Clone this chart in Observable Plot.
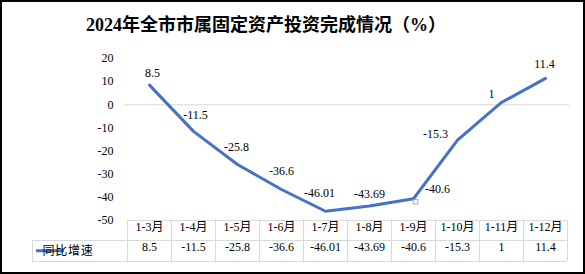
<!DOCTYPE html>
<html><head><meta charset="utf-8">
<script src="https://cdn.jsdelivr.net/npm/d3@7"></script>
<script src="https://cdn.jsdelivr.net/npm/@observablehq/plot@0.6"></script>
<style>
html,body{margin:0;padding:0;background:#fff;}
#wrap{position:relative;width:585px;height:274px;overflow:hidden;background:#fff;}
#chart{position:absolute;left:0;top:0;}
#title{position:absolute;left:0;top:11px;width:532px;text-align:center;font-weight:bold;font-size:18px;font-family:"Liberation Serif","Noto Sans CJK SC";color:#000;line-height:28px;white-space:nowrap;}
#frame{position:absolute;left:0;top:0;width:585px;height:274px;box-sizing:border-box;border:2px solid #000;pointer-events:none;}
</style></head><body>
<div id="wrap"><div id="chart"></div><div id="title">2024年全市市属固定资产投资完成情况（%）</div><div id="frame"></div></div>
<script>
const categories = ["1-3月","1-4月","1-5月","1-6月","1-7月","1-8月","1-9月","1-10月","1-11月","1-12月"];
const values = [8.5, -11.5, -25.8, -36.6, -46.01, -43.69, -40.6, -15.3, 1, 11.4];
const valueLabels = ["8.5","-11.5","-25.8","-36.6","-46.01","-43.69","-40.6","-15.3","1","11.4"];
const yTicks = [20, 10, 0, -10, -20, -30, -40, -50];
const seriesName = "同比增速";

// layout: label offsets (px) relative to each point
const labelOffsets = [[3,-12],[2,-16],[-1,-17],[0,-18],[-6,-18],[0,-12],[24,-10],[-22,-6],[-10,-8],[-1,-14]];

const data = categories.map((c, i) => ({cat: c, v: values[i], label: valueLabels[i]}));
const rowH = 20.5;
const blue = "#4472C4";
const grid = "#d9d9d9";

function tableMark(index, scales, vals, dims) {
  const x = scales.x;
  const n = categories.length;
  const fw = dims.width - dims.marginLeft - dims.marginRight;
  const bw = x.bandwidth ? x.bandwidth() : fw / n;
  const pos = c => x(c);
  const left = pos(categories[0]);
  const right = pos(categories[n - 1]) + bw;
  const top = dims.height - dims.marginBottom;
  const legendLeft = 32;
  const g = d3.create("svg:g");
  const lines = g.append("g").attr("fill", "none").attr("stroke", grid).attr("stroke-width", 1).attr("shape-rendering", "crispEdges");
  const hl = (x1, x2, y) => lines.append("line").attr("x1", x1).attr("x2", x2).attr("y1", y).attr("y2", y);
  const vl = (xx, y1, y2) => lines.append("line").attr("x1", xx).attr("x2", xx).attr("y1", y1).attr("y2", y2);
  hl(left, right, top);
  hl(legendLeft, right, top + rowH);
  hl(legendLeft, right, top + 2 * rowH);
  for (const c of categories) vl(pos(c), top, top + 2 * rowH);
  vl(right, top, top + 2 * rowH);
  vl(legendLeft, top + rowH, top + 2 * rowH);
  const ly = top + rowH * 1.5;
  g.append("line").attr("x1", 36).attr("x2", 64).attr("y1", ly).attr("y2", ly)
    .attr("stroke", blue).attr("stroke-width", 3);
  g.append("text").attr("x", 68).attr("y", ly).attr("dy", "0.35em")
    .attr("font-family", "Noto Sans CJK SC").attr("font-size", 12).attr("letter-spacing", 0.8)
    .attr("fill", "#000").text(seriesName);
  return g.node();
}

const labelMarks = data.map((d, i) => Plot.text([d], {
  x: "cat", y: "v", text: "label", dx: labelOffsets[i][0], dy: labelOffsets[i][1],
  fontSize: 12, fill: "#000"
}));

const chart = Plot.plot({
  width: 585, height: 274,
  marginTop: 58, marginBottom: 54, marginLeft: 124, marginRight: 16,
  style: {fontFamily: "'Liberation Serif', 'Noto Sans CJK SC'", fontSize: "12px", color: "#000", background: "transparent"},
  x: {type: "band", domain: categories, padding: 0, axis: null},
  y: {domain: [-50, 20], ticks: yTicks, tickSize: 0, tickPadding: 11, label: null, tickFormat: d => String(d)},
  marks: [
    Plot.ruleY([0], {stroke: grid, strokeWidth: 1}),
    tableMark,
    Plot.text(categories, {x: d => d, text: d => d, frameAnchor: "bottom", dy: rowH / 2, fontSize: 12, fill: "#000"}),
    Plot.text(data, {x: "cat", text: "label", frameAnchor: "bottom", dy: rowH * 1.5, fontSize: 12, fill: "#000"}),
    Plot.line(data, {x: "cat", y: "v", stroke: blue, strokeWidth: 3, strokeLinejoin: "round"}),
    Plot.dot(data.filter(d => d.cat === "1-9月"), {x: "cat", y: "v", symbol: "square", r: 2.6, stroke: "#a6a6a6", strokeWidth: 1, fill: "none", dx: 2, dy: 3}),
    ...labelMarks
  ]
});
document.getElementById("chart").appendChild(chart);
</script>
</body></html>
